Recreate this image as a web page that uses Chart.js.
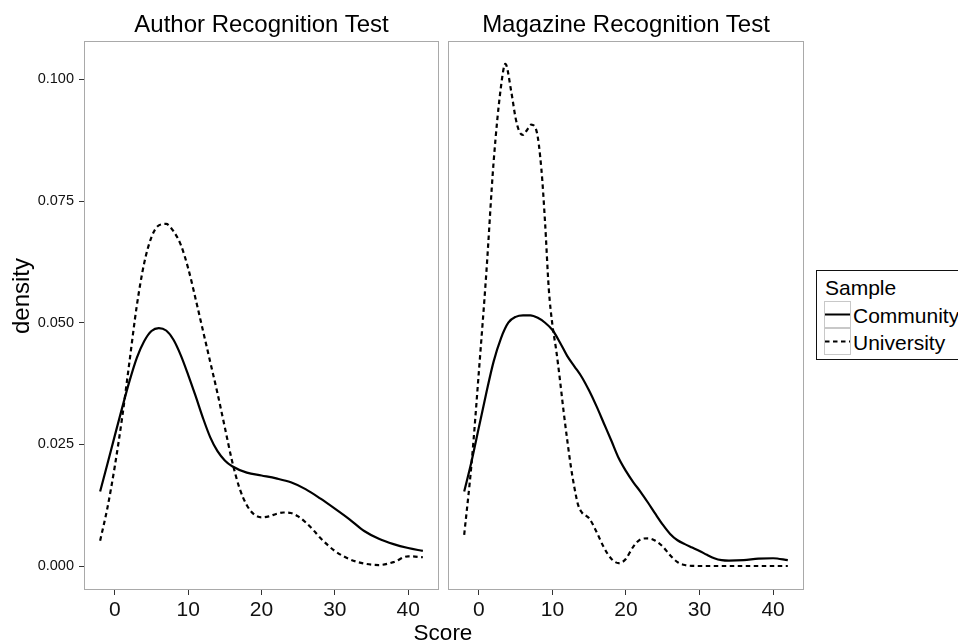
<!DOCTYPE html>
<html>
<head>
<meta charset="utf-8">
<script src="https://cdn.jsdelivr.net/npm/chart.js@4/dist/chart.umd.min.js"></script>
<style>
html,body{margin:0;padding:0;background:#fff;width:958px;height:644px;overflow:hidden;font-family:"Liberation Sans",Arial,Helvetica,sans-serif;}
canvas{position:absolute;top:0;}
#c1{left:0;}
#c2{left:444px;}
.txt{position:absolute;color:#000;white-space:nowrap;}
.title{font-size:24px;line-height:24px;text-align:center;top:12px;}
.key{position:absolute;left:824px;width:25px;height:25px;border:1px solid #c8c8c8;background:#fff;}
</style>
</head>
<body>
<canvas id="c1" width="444" height="644"></canvas>
<canvas id="c2" width="364" height="644"></canvas>

<div class="txt title" style="left:84px;width:355px;">Author Recognition Test</div>
<div class="txt title" style="left:448px;width:356px;">Magazine Recognition Test</div>
<div class="txt" style="left:384px;top:622px;width:118px;text-align:center;font-size:22.5px;line-height:22.5px;">Score</div>
<div class="txt" style="left:-39px;top:284px;width:120px;height:24px;text-align:center;font-size:24px;line-height:24px;transform:rotate(-90deg);">density</div>

<div style="position:absolute;left:816px;top:270px;width:200px;height:88px;border:1px solid #111;"></div>
<div class="txt" style="left:825px;top:277px;font-size:21px;line-height:21px;">Sample</div>
<div class="key" style="top:301px;"><svg width="25" height="25" style="position:absolute;left:0;top:0"><line x1="0" y1="12.5" x2="25" y2="12.5" stroke="#000" stroke-width="2"/></svg></div>
<div class="key" style="top:328px;"><svg width="25" height="25" style="position:absolute;left:0;top:0"><line x1="0" y1="12.5" x2="25" y2="12.5" stroke="#000" stroke-width="2" stroke-dasharray="4.5 3.5"/></svg></div>
<div class="txt" style="left:853px;top:302px;font-size:21px;line-height:27px;">Community</div>
<div class="txt" style="left:853px;top:329px;font-size:21px;line-height:27px;">University</div>

<script>
// ---------- data ----------
const panelTitles = ["Author Recognition Test", "Magazine Recognition Test"];
const seriesNames = ["Community", "University"];
const xTicks = [0, 10, 20, 30, 40];
const yTicks = [0, 0.025, 0.05, 0.075, 0.1];
const yTickLabels = ["0.000", "0.025", "0.050", "0.075", "0.100"];

// Author Recognition Test – Community
const artCommunityX = [-2,-1,0,1,2,3,4,5,6,7,8,9,10,11,12,13,14,15,16,18,20,22,24,26,28,30,32,34,36,38,40,42];
const artCommunityY = [0.0153,0.0210,0.0268,0.0325,0.0380,0.0428,0.0462,0.0483,0.0489,0.0484,0.0465,0.0433,0.0393,0.0350,0.0305,0.0265,0.0236,0.0217,0.0205,0.0192,0.0186,0.0180,0.0172,0.0158,0.0139,0.0118,0.0096,0.0072,0.0056,0.0045,0.0037,0.0031];

// Author Recognition Test – University
const artUniversityX = [-2,-1,0,1,2,3,4,5,6,7,8,9,10,11,12,13,14,15,16,17,18,19,20,21,22,23,24,25,26,27,28,30,32,34,36,38,40,42];
const artUniversityY = [0.0052,0.0120,0.0205,0.0305,0.0420,0.0535,0.0622,0.0676,0.0700,0.0703,0.0688,0.0660,0.0612,0.0550,0.0485,0.0420,0.0355,0.0285,0.0215,0.0160,0.0125,0.0106,0.0100,0.0102,0.0107,0.0110,0.0109,0.0102,0.0090,0.0075,0.0058,0.0031,0.0014,0.0005,0.0002,0.0008,0.0020,0.0018];

// Magazine Recognition Test – Community
const mrtCommunityX = [-2,-1,0,1,2,3,4,5,6,7,8,9,10,11,12,13,14,15,16,17,18,19,20,21,22,23,24,25,26,27,28,29,30,31,32,33,34,36,38,40,42];
const mrtCommunityY = [0.0153,0.0215,0.0285,0.0355,0.0420,0.0468,0.0500,0.0512,0.0515,0.0515,0.0510,0.0500,0.0485,0.0460,0.0432,0.0410,0.0388,0.0360,0.0328,0.0293,0.0258,0.0222,0.0195,0.0172,0.0152,0.0130,0.0107,0.0085,0.0066,0.0053,0.0045,0.0038,0.0031,0.0023,0.0016,0.0012,0.0011,0.0012,0.0015,0.0016,0.0012];

// Magazine Recognition Test – University
const mrtUniversityX = [-2,-1,0,1,2,3,3.6,4.4,5,5.5,6,6.5,7.1,7.8,8.5,9,9.5,10,10.5,11,11.5,12,12.5,13,13.5,14,15,16,17,18,19,19.5,20,21,22,23,24,25,26,27,28,30,32,34,36,38,40,42];
const mrtUniversityY = [0.0064,0.0210,0.0400,0.0600,0.0830,0.0985,0.1032,0.0975,0.0920,0.0893,0.0886,0.0895,0.0907,0.0896,0.0815,0.0705,0.0570,0.0495,0.0445,0.0385,0.0320,0.0260,0.0205,0.0160,0.0125,0.0110,0.0098,0.0070,0.0038,0.0015,0.0006,0.0008,0.0015,0.0040,0.0055,0.0057,0.0052,0.0040,0.0022,0.0008,0.0002,0,0,0,0,0,0,0];

// ---------- helpers ----------
const FONT = '"Liberation Sans", Arial, Helvetica, sans-serif';
const toPts = (xs, ys) => xs.map((x, i) => ({x: x, y: ys[i]}));

const panelBorder = {
  id: 'panelBorder',
  afterDatasetsDraw(chart) {
    const {ctx, chartArea: a} = chart;
    ctx.save();
    ctx.strokeStyle = '#a9a9a9';
    ctx.lineWidth = 1;
    const l = Math.round(a.left) + 0.5, t = Math.round(a.top) + 0.5;
    const w = Math.round(a.right) - Math.round(a.left) - 1, h = Math.round(a.bottom) - Math.round(a.top) - 1;
    ctx.strokeRect(l, t, w, h);
    ctx.restore();
  }
};

function makeDatasets(cx, cy, ux, uy) {
  return [
    {label: seriesNames[0], data: toPts(cx, cy), borderColor: '#000', borderWidth: 2.2,
     pointRadius: 0, fill: false, cubicInterpolationMode: 'monotone'},
    {label: seriesNames[1], data: toPts(ux, uy), borderColor: '#000', borderWidth: 2.2,
     borderDash: [4.5, 3.5], pointRadius: 0, fill: false, cubicInterpolationMode: 'monotone'}
  ];
}

function makeOptions(showY, padding) {
  return {
    responsive: false,
    animation: false,
    events: [],
    layout: {padding: padding},
    plugins: {legend: {display: false}, tooltip: {enabled: false}, title: {display: false}},
    scales: {
      x: {
        type: 'linear', min: -4.2, max: 44.2,
        afterBuildTicks: (s) => { s.ticks = xTicks.map(v => ({value: v})); },
        afterFit: (s) => { s.height = 54; },
        grid: {display: true, drawOnChartArea: false, drawTicks: true, tickLength: 5, color: '#333', lineWidth: 1},
        border: {display: false},
        ticks: {font: {family: FONT, size: 21}, color: '#111', padding: 3, maxRotation: 0,
                callback: (v) => String(v)}
      },
      y: {
        type: 'linear', min: -0.00493, max: 0.1079,
        display: showY,
        afterBuildTicks: (s) => { s.ticks = yTicks.map(v => ({value: v})); },
        afterFit: (s) => { s.width = showY ? 84 : 0; },
        grid: {display: true, drawOnChartArea: false, drawTicks: true, tickLength: 5, color: '#333', lineWidth: 1},
        border: {display: false},
        ticks: {font: {family: FONT, size: 14.5}, color: '#111', padding: 5,
                callback: (v) => { const i = yTicks.indexOf(v); return i >= 0 ? yTickLabels[i] : ''; }}
      }
    }
  };
}

new Chart(document.getElementById('c1'), {
  type: 'line',
  data: {datasets: makeDatasets(artCommunityX, artCommunityY, artUniversityX, artUniversityY)},
  options: makeOptions(true, {left: 0, top: 41, right: 5, bottom: 0}),
  plugins: [panelBorder]
});

new Chart(document.getElementById('c2'), {
  type: 'line',
  data: {datasets: makeDatasets(mrtCommunityX, mrtCommunityY, mrtUniversityX, mrtUniversityY)},
  options: makeOptions(false, {left: 4, top: 41, right: 4, bottom: 0}),
  plugins: [panelBorder]
});
</script>
</body>
</html>
